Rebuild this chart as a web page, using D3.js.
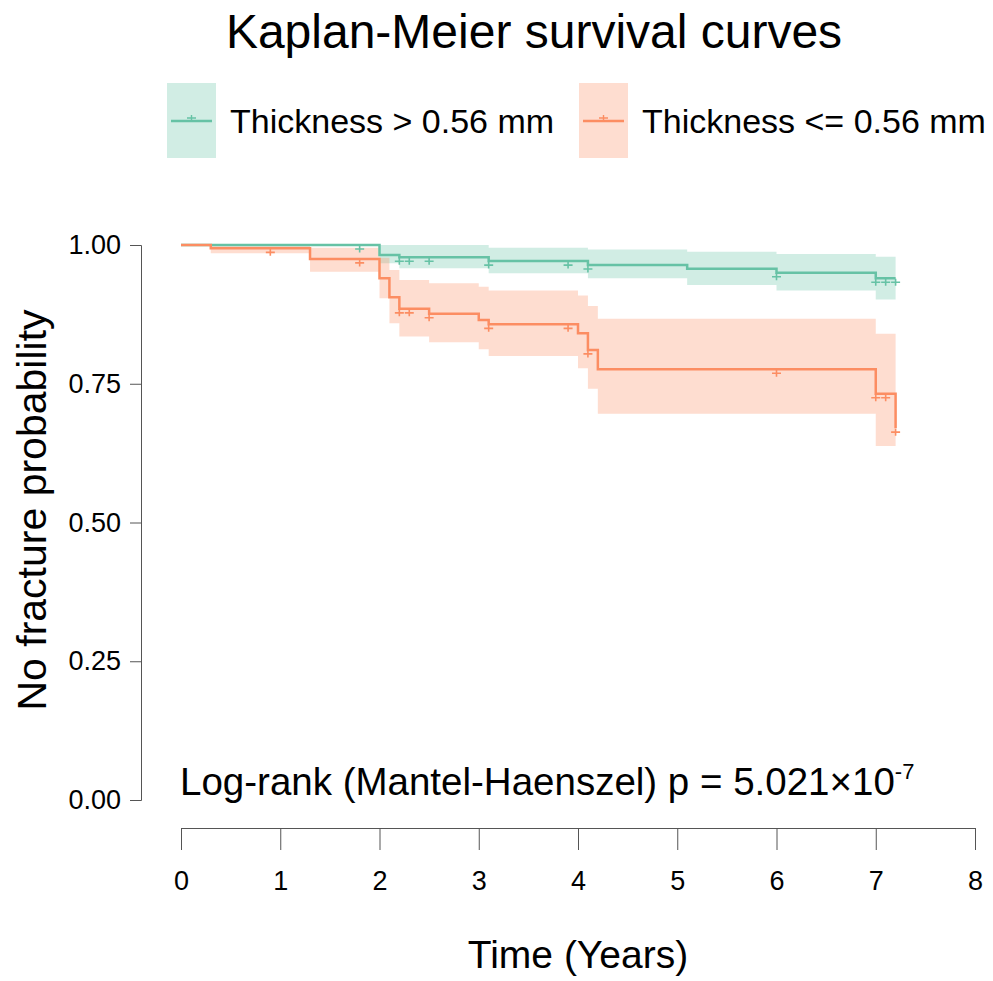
<!DOCTYPE html>
<html lang="en">
<head>
<meta charset="utf-8">
<script src="https://d3js.org/d3.v7.min.js"></script>
<style>
  body { margin: 0; background: #fff; }
  svg text { font-family: "Liberation Sans", Arial, sans-serif; fill: #000; }
  .axis path, .axis line { stroke: #555; stroke-width: 1; }
</style>
</head>
<body>
<script>
    // thickness > 0.56 mm (green)
    const thickTime  = [0, 2.0, 2.2, 3.1, 4.1, 5.1, 6.0, 7.0, 7.2];
    const thickSurv  = [1.0, 0.982, 0.978, 0.971, 0.964, 0.957, 0.950, 0.940, 0.940];
    const thickUpper = [1.0, 1.0, 1.0, 0.995, 0.992, 0.988, 0.984, 0.979, 0.979];
    const thickLower = [1.0, 0.967, 0.958, 0.949, 0.940, 0.928, 0.918, 0.902, 0.902];
    const thickCensor = [1.8, 2.2, 2.3, 2.5, 3.1, 3.9, 4.1, 6.0, 7.0, 7.1, 7.2];

    // thickness <= 0.56 mm (orange)
    const thinTime  = [0, 0.3, 1.3, 2.0, 2.1, 2.2, 2.5, 3.0, 3.1, 4.0, 4.1, 4.2, 7.0, 7.2];
    const thinSurv  = [1.0, 0.994, 0.975, 0.940, 0.906, 0.885, 0.876, 0.865, 0.857, 0.841, 0.811, 0.776, 0.732, 0.670];
    const thinUpper = [1.0, 1.0, 0.995, 0.977, 0.955, 0.937, 0.931, 0.925, 0.918, 0.909, 0.890, 0.867, 0.840, 0.840];
    const thinLower = [1.0, 0.985, 0.952, 0.904, 0.859, 0.835, 0.825, 0.812, 0.800, 0.778, 0.741, 0.696, 0.638, 0.638];
    const thinCensor = [0.9, 1.8, 2.2, 2.3, 2.5, 3.1, 3.9, 4.1, 6.0, 7.0, 7.1, 7.2];

    const groupNames = ['Thickness > 0.56 mm', 'Thickness <= 0.56 mm'];
    const groupColors = ['#66c2a5', '#fc8d62'];
    const xTicks = [0, 1, 2, 3, 4, 5, 6, 7, 8];
    const yTicks = [0, 0.25, 0.5, 0.75, 1];

    const W = 993, H = 981;

    const svg = d3.select('body').append('svg')
        .attr('width', W)
        .attr('height', H);

    const x = d3.scaleLinear().domain([0, 8]).range([181, 975]);
    const y = d3.scaleLinear().domain([0, 1]).range([800, 245]);

    const groups = [
        { time: thickTime, surv: thickSurv, upper: thickUpper, lower: thickLower, censor: thickCensor },
        { time: thinTime, surv: thinSurv, upper: thinUpper, lower: thinLower, censor: thinCensor }
    ];
    groups.forEach((g, i) => {
        g.color = groupColors[i];
        g.name = groupNames[i];
        g.points = g.time.map((t, k) => ({ t: t, s: g.surv[k], hi: g.upper[k], lo: g.lower[k] }));
    });

    // step value at time t (right-continuous)
    function survAt(g, t) {
        let s = g.surv[0];
        g.time.forEach((tt, k) => { if (tt <= t + 1e-9) s = g.surv[k]; });
        return s;
    }

    const band = d3.area()
        .x(d => x(d.t))
        .y0(d => y(d.lo))
        .y1(d => y(d.hi))
        .curve(d3.curveStepAfter);

    const line = d3.line()
        .x(d => x(d.t))
        .y(d => y(d.s))
        .curve(d3.curveStepAfter);

    // confidence bands
    svg.append('g').selectAll('path')
        .data(groups)
        .enter()
        .append('path')
        .attr('d', d => band(d.points))
        .attr('fill', d => d.color)
        .attr('fill-opacity', 0.3);

    // survival curves
    svg.append('g').selectAll('path')
        .data(groups)
        .enter()
        .append('path')
        .attr('d', d => line(d.points))
        .attr('fill', 'none')
        .attr('stroke', d => d.color)
        .attr('stroke-width', 2.5);

    // censor marks
    groups.forEach(g => {
        svg.append('g').selectAll('path')
            .data(g.censor)
            .enter()
            .append('path')
            .attr('d', 'M-4.5,0H4.5M0,-3.5V3.5')
            .attr('transform', t => 'translate(' + x(t) + ',' + (y(survAt(g, t)) + 4) + ')')
            .attr('stroke', g.color)
            .attr('stroke-width', 1.6)
            .attr('fill', 'none');
    });

    // axes
    const yAxis = d3.axisLeft(y)
        .tickValues(yTicks)
        .tickFormat(d3.format('.2f'))
        .tickSizeOuter(0)
        .tickSize(11)
        .tickPadding(9);
    const yg = svg.append('g')
        .attr('class', 'axis')
        .attr('transform', 'translate(141,0)')
        .call(yAxis);
    yg.selectAll('text').attr('font-size', 27).style('font-family', '"Liberation Sans", Arial, sans-serif');

    const xAxis = d3.axisBottom(x)
        .tickValues(xTicks)
        .tickFormat(d3.format('d'))
        .tickSizeOuter(0)
        .tickSize(22)
        .tickPadding(21);
    const xg = svg.append('g')
        .attr('class', 'axis')
        .attr('transform', 'translate(0,828)')
        .call(xAxis);
    xg.selectAll('text').attr('font-size', 27).style('font-family', '"Liberation Sans", Arial, sans-serif');

    // titles
    svg.append('text')
        .attr('x', 534)
        .attr('y', 48)
        .attr('text-anchor', 'middle')
        .attr('font-size', 48)
        .text('Kaplan-Meier survival curves');

    svg.append('text')
        .attr('transform', 'translate(46,510) rotate(-90)')
        .attr('text-anchor', 'middle')
        .attr('font-size', 41)
        .text('No fracture probability');

    svg.append('text')
        .attr('x', 578)
        .attr('y', 968)
        .attr('text-anchor', 'middle')
        .attr('font-size', 39)
        .text('Time (Years)');

    const pv = svg.append('text')
        .attr('x', 180)
        .attr('y', 795)
        .attr('font-size', 38.5)
        .text('Log-rank (Mantel-Haenszel) p = 5.021×10');
    pv.append('tspan')
        .attr('dy', -16)
        .attr('font-size', 22)
        .text('-7');

    // legend
    const legendX = [167, 579];
    const legend = svg.append('g').selectAll('g')
        .data(groups)
        .enter()
        .append('g')
        .attr('transform', (d, i) => 'translate(' + legendX[i] + ',83)');
    legend.append('rect')
        .attr('width', 49)
        .attr('height', 75)
        .attr('fill', d => d.color)
        .attr('fill-opacity', 0.3);
    legend.append('line')
        .attr('x1', 4).attr('x2', 45)
        .attr('y1', 38).attr('y2', 38)
        .attr('stroke', d => d.color)
        .attr('stroke-width', 2.5);
    legend.append('path')
        .attr('d', 'M20,35H29M24.5,32V39')
        .attr('stroke', d => d.color)
        .attr('stroke-width', 1.4);
    legend.append('text')
        .attr('x', 63)
        .attr('y', 50)
        .attr('font-size', 34)
        .text(d => d.name);
</script>
</body>
</html>
